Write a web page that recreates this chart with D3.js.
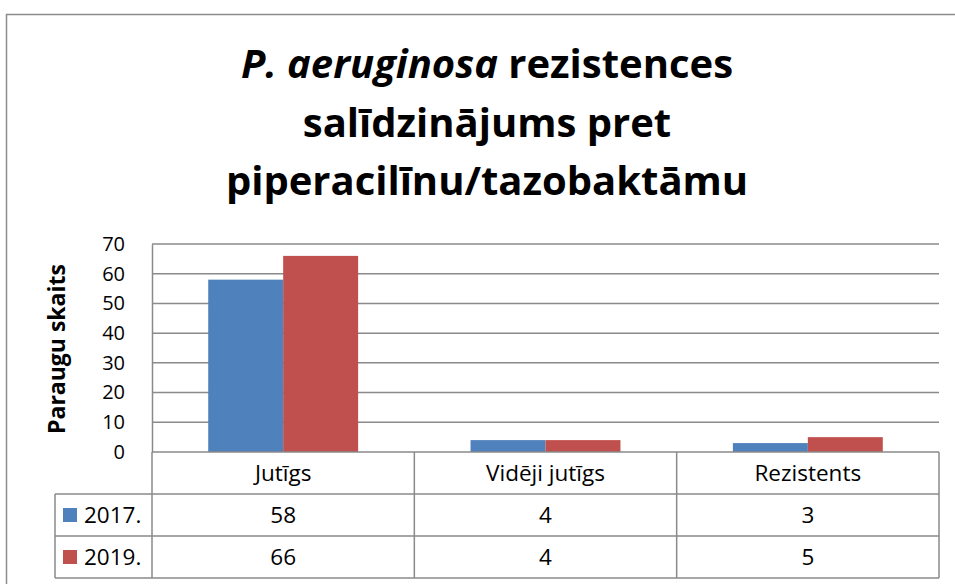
<!DOCTYPE html>
<html>
<head>
<meta charset="utf-8">
<script src="https://cdn.jsdelivr.net/npm/d3@7"></script>
<style>
  body { margin: 0; background: #fff; }
  svg { font-family: "Open Sans", Lato, sans-serif; }
</style>
</head>
<body>
<div id="my_dataviz"></div>
<script>
// data
var categories = ["Jutīgs", "Vidēji jutīgs", "Rezistents"];
var seriesNames = ["2017.", "2019."];
var values2017 = [58, 4, 3];
var values2019 = [66, 4, 5];
var yTicks = [0, 10, 20, 30, 40, 50, 60, 70];
var colors = ["#4F81BD", "#C0504D"];

var series = [values2017, values2019];

var W = 955, H = 584;
var plotLeft = 152, plotRight = 939, plotTop = 244, plotBottom = 452;
var rowH = 42;
var gridColor = "#8a8a8a";
var tableFont = 22.5;

var svg = d3.select("#my_dataviz").append("svg")
  .attr("width", W).attr("height", H);

// outer chart border
svg.append("rect")
  .attr("x", 6.5).attr("y", 14.5)
  .attr("width", 1000).attr("height", 700)
  .attr("fill", "none")
  .attr("stroke", "#8c8c8c")
  .attr("stroke-width", 1.5);

// title
var title = svg.append("text")
  .attr("text-anchor", "middle")
  .attr("font-weight", "bold")
  .attr("font-size", 40)
  .attr("fill", "#000");
var l1 = title.append("tspan").attr("x", 487).attr("y", 78);
l1.append("tspan").attr("font-style", "italic").text("P. aeruginosa");
l1.append("tspan").text(" rezistences");
title.append("tspan").attr("x", 487).attr("y", 137).text("salīdzinājums pret");
title.append("tspan").attr("x", 487).attr("y", 195).text("piperacilīnu/tazobaktāmu");

var xs = d3.scaleBand().domain(categories).range([plotLeft, plotRight]).paddingInner(0).paddingOuter(0);
var ys = d3.scaleLinear().domain([0, 70]).range([plotBottom, plotTop]);

// gridlines
svg.append("g").selectAll("line")
  .data(yTicks.filter(function (d) { return d > 0; }))
  .enter().append("line")
  .attr("x1", plotLeft).attr("x2", plotRight)
  .attr("y1", function (d) { return ys(d); })
  .attr("y2", function (d) { return ys(d); })
  .attr("stroke", gridColor)
  .attr("stroke-width", 1.5);

// y axis
var yAxis = svg.append("g")
  .attr("transform", "translate(" + plotLeft + ",0)")
  .call(d3.axisLeft(ys).tickValues(yTicks).tickSize(0).tickPadding(27));
yAxis.select(".domain").attr("stroke", gridColor).attr("stroke-width", 1.5);
yAxis.selectAll("text")
  .attr("font-size", 20)
  .attr("font-family", "'Open Sans', sans-serif")
  .attr("fill", "#000");

svg.append("text")
  .attr("transform", "translate(65," + ((plotTop + plotBottom) / 2 + 1) + ") rotate(-90)")
  .attr("text-anchor", "middle")
  .attr("font-weight", "bold")
  .attr("font-size", 23)
  .text("Paraugu skaits");

// bars (gap width 150%)
var inner = d3.scaleBand().domain(seriesNames).range([0, xs.bandwidth()]).paddingOuter(0.75).paddingInner(0);
seriesNames.forEach(function (name, s) {
  svg.append("g").selectAll("rect")
    .data(series[s])
    .enter().append("rect")
    .attr("x", function (d, i) { return xs(categories[i]) + inner(name); })
    .attr("width", inner.bandwidth())
    .attr("y", function (d) { return ys(d); })
    .attr("height", function (d) { return plotBottom - ys(d); })
    .attr("fill", colors[s]);
});

// x axis line
svg.append("line")
  .attr("x1", plotLeft).attr("x2", plotRight)
  .attr("y1", plotBottom).attr("y2", plotBottom)
  .attr("stroke", gridColor).attr("stroke-width", 1.5);

// data table
var tbl = svg.append("g").attr("stroke", gridColor).attr("stroke-width", 1.5).attr("fill", "none");
var legLeft = 55;
var tableBottom = plotBottom + rowH * 3;
var vx = categories.map(function (c) { return xs(c); }).concat([plotRight]);
vx.forEach(function (x) {
  tbl.append("line").attr("x1", x).attr("x2", x).attr("y1", plotBottom).attr("y2", tableBottom);
});
[1, 2, 3].forEach(function (r) {
  tbl.append("line").attr("x1", legLeft).attr("x2", plotRight)
    .attr("y1", plotBottom + rowH * r).attr("y2", plotBottom + rowH * r);
});
tbl.append("line").attr("x1", legLeft).attr("x2", legLeft)
  .attr("y1", plotBottom + rowH).attr("y2", tableBottom);

// header row
svg.append("g").selectAll("text")
  .data(categories)
  .enter().append("text")
  .attr("x", function (d) { return xs(d) + xs.bandwidth() / 2; })
  .attr("y", plotBottom + rowH / 2)
  .attr("dy", "0.35em")
  .attr("text-anchor", "middle")
  .attr("font-size", tableFont)
  .text(function (d) { return d; });

seriesNames.forEach(function (name, s) {
  var cy = plotBottom + rowH * (s + 1) + rowH / 2;
  svg.append("rect")
    .attr("x", 63).attr("y", cy - 7)
    .attr("width", 14).attr("height", 14)
    .attr("fill", colors[s]);
  svg.append("text")
    .attr("x", 84).attr("y", cy).attr("dy", "0.35em")
    .attr("font-size", tableFont)
    .text(name);
  svg.append("g").selectAll("text")
    .data(series[s])
    .enter().append("text")
    .attr("x", function (d, i) { return xs(categories[i]) + xs.bandwidth() / 2; })
    .attr("y", cy).attr("dy", "0.35em")
    .attr("text-anchor", "middle")
    .attr("font-size", tableFont)
    .text(function (d) { return d; });
});
</script>
</body>
</html>
